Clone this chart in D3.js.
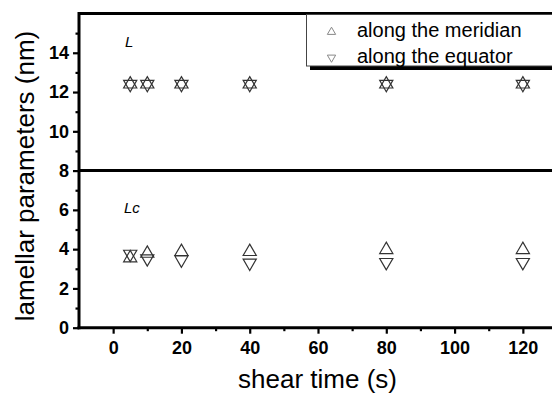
<!DOCTYPE html>
<html>
<head>
<meta charset="utf-8">
<script src="https://cdn.jsdelivr.net/npm/d3@7"></script>
<style>
  html, body { margin: 0; padding: 0; background: #fff; }
  svg { display: block; font-family: "Liberation Sans", Arial, sans-serif; }
</style>
</head>
<body>
<svg id="chart" width="552" height="393"></svg>
<script>
// shear time (s) at which the lamellar parameters were measured
const shearTimes = [5, 10, 20, 40, 80, 120];

// long period L (nm)
const longPeriodMeridian = [12.4, 12.4, 12.4, 12.4, 12.4, 12.4];
const longPeriodEquator  = [12.4, 12.4, 12.4, 12.4, 12.4, 12.4];

// crystal thickness Lc (nm)
const lcMeridian = [3.55, 3.78, 3.87, 3.87, 3.97, 3.97];
const lcEquator  = [3.75, 3.52, 3.46, 3.30, 3.33, 3.33];

const xMajorTicks = [0, 20, 40, 60, 80, 100, 120];
const xMinorTicks = [-10, 10, 30, 50, 70, 90, 110, 130];
const yMajorTicks = [0, 2, 4, 6, 8, 10, 12, 14];
const yMinorTicks = [1, 3, 5, 7, 9, 11, 13, 15];

const legendLabels = ["along the meridian", "along the equator"];

const svg = d3.select("#chart");

const x = d3.scaleLinear().domain([-10, 130]).range([79, 557]);
const y = d3.scaleLinear().domain([0, 16]).range([327.7, 13.5]);

const axisFont = '"Liberation Sans", Arial, sans-serif';

// frame: top border and the divider between the L and Lc panels
svg.append("line")
  .attr("x1", x(-10)).attr("x2", 560)
  .attr("y1", y(16)).attr("y2", y(16))
  .attr("stroke", "#000").attr("stroke-width", 3);
svg.append("line")
  .attr("x1", x(-10)).attr("x2", 560)
  .attr("y1", y(8)).attr("y2", y(8))
  .attr("stroke", "#000").attr("stroke-width", 3);

// x axis (major ticks with labels, minor ticks without)
const gx = svg.append("g").attr("transform", `translate(0,${y(0)})`);
gx.call(d3.axisBottom(x).tickValues(xMajorTicks).tickSize(6).tickSizeOuter(0).tickPadding(7.5)
  .tickFormat(d3.format("d")));
gx.select(".domain").attr("stroke-width", 3).attr("d", `M${x(-10) - 1.5},0H560`);
gx.selectAll(".tick line").attr("stroke-width", 2.2);
gx.selectAll(".tick text")
  .attr("font-family", axisFont).attr("font-size", 18).attr("font-weight", "bold").attr("fill", "#000");
const gxm = svg.append("g").attr("transform", `translate(0,${y(0)})`);
gxm.call(d3.axisBottom(x).tickValues(xMinorTicks.filter(v => v > -10)).tickSize(3.5).tickFormat(""));
gxm.select(".domain").remove();
gxm.selectAll(".tick line").attr("stroke-width", 2.2);

// y axis
const gy = svg.append("g").attr("transform", `translate(${x(-10)},0)`);
gy.call(d3.axisLeft(y).tickValues(yMajorTicks).tickSize(6).tickSizeOuter(0).tickPadding(4)
  .tickFormat(d3.format("d")));
gy.select(".domain").attr("stroke-width", 3).attr("d", `M0,${y(16) - 1.5}V${y(0) + 1.5}`);
gy.selectAll(".tick line").attr("stroke-width", 2.2);
gy.selectAll(".tick text")
  .attr("font-family", axisFont).attr("font-size", 18).attr("font-weight", "bold").attr("fill", "#000");
const gym = svg.append("g").attr("transform", `translate(${x(-10)},0)`);
gym.call(d3.axisLeft(y).tickValues(yMinorTicks).tickSize(3.5).tickFormat(""));
gym.select(".domain").remove();
gym.selectAll(".tick line").attr("stroke-width", 2.2);

// axis titles
svg.append("text")
  .attr("x", 317.5).attr("y", 388)
  .attr("text-anchor", "middle")
  .attr("font-size", 26).attr("fill", "#000")
  .text("shear time (s)");
svg.append("text")
  .attr("transform", "translate(33.5,176) rotate(-90)")
  .attr("text-anchor", "middle")
  .attr("font-size", 26).attr("fill", "#000")
  .text("lamellar parameters (nm)");

// panel labels
svg.append("text")
  .attr("x", 125).attr("y", 46.5)
  .attr("font-size", 15).attr("font-style", "italic").attr("fill", "#000")
  .text("L");
svg.append("text")
  .attr("x", 124).attr("y", 213)
  .attr("font-size", 15).attr("font-style", "italic").attr("fill", "#000")
  .text("Lc");

// open triangle markers: up = meridian, down = equator
const tri = d3.symbol().type(d3.symbolTriangle).size(75);
function drawSeries(values, down) {
  svg.append("g").selectAll("path")
    .data(shearTimes.map((t, i) => [t, values[i]]))
    .join("path")
    .attr("d", tri)
    .attr("transform", d => `translate(${x(d[0])},${y(d[1])})` + (down ? " rotate(180)" : ""))
    .attr("fill", "none")
    .attr("stroke", "#333")
    .attr("stroke-width", 1.2);
}
drawSeries(longPeriodMeridian, false);
drawSeries(longPeriodEquator, true);
drawSeries(lcMeridian, false);
drawSeries(lcEquator, true);

// legend box with drop shadow
const legend = svg.append("g");
legend.append("rect")
  .attr("x", 310).attr("y", 66).attr("width", 260).attr("height", 4)
  .attr("fill", "#000");
legend.append("rect")
  .attr("x", 306.5).attr("y", 14.5).attr("width", 260).attr("height", 51.5)
  .attr("fill", "#fff").attr("stroke", "#444").attr("stroke-width", 1);
const legendSym = d3.symbol().type(d3.symbolTriangle).size(30);
legendLabels.forEach((label, i) => {
  const cy = 32 + i * 25.5;
  legend.append("path")
    .attr("d", legendSym)
    .attr("transform", `translate(331.5,${cy})` + (i === 1 ? " rotate(180)" : ""))
    .attr("fill", "none").attr("stroke", "#888").attr("stroke-width", 1);
  legend.append("text")
    .attr("x", 357).attr("y", 37.3 + i * 25.4)
    .attr("font-size", 20).attr("fill", "#000")
    .text(label);
});
</script>
</body>
</html>
